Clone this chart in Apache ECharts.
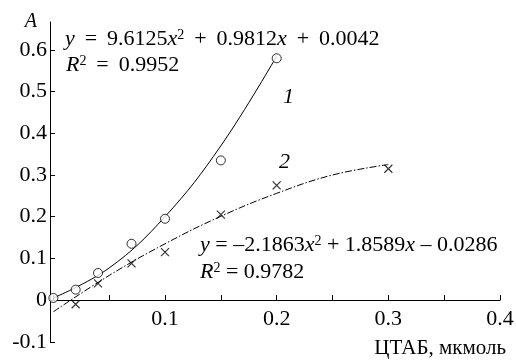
<!DOCTYPE html>
<html>
<head>
<meta charset="utf-8">
<script src="https://cdn.jsdelivr.net/npm/echarts@6/dist/echarts.min.js"></script>
<style>
html,body{margin:0;padding:0;background:#fff;}
#c{width:516px;height:363px;}
</style>
</head>
<body>
<div id="c"></div>
<script>
// Measured points (circles, curve 1)
const x1 = [0, 0.02, 0.04, 0.07, 0.1, 0.15, 0.2];
const a1 = [0.005, 0.025, 0.065, 0.135, 0.195, 0.335, 0.58];
// Measured points (crosses, curve 2)
const x2 = [0.02, 0.04, 0.07, 0.1, 0.15, 0.2, 0.3];
const a2 = [-0.01, 0.04, 0.088, 0.115, 0.205, 0.275, 0.315];
// Trend line 1
const tx1 = [0, 0.05, 0.1, 0.15, 0.2];
const ty1 = [0.005, 0.077, 0.2, 0.37, 0.585];
// Trend line 2
const tx2 = [0, 0.05, 0.1, 0.15, 0.2, 0.25, 0.3];
const ty2 = [-0.028, 0.059, 0.135, 0.201, 0.256, 0.3, 0.325];
// Axis ticks
const xTicks = [0, 0.05, 0.1, 0.15, 0.2, 0.25, 0.3, 0.35, 0.4];
const xLabels = [0.1, 0.2, 0.3, 0.4];
const yTicks = [-0.1, 0, 0.1, 0.2, 0.3, 0.4, 0.5, 0.6];
const yLabels = [-0.1, 0, 0.1, 0.2, 0.3, 0.4, 0.5, 0.6];
const yMin = -0.1, yMax = 0.667;

const FONT = '"Liberation Serif", "Times New Roman", serif';
const zip = (a, b) => a.map((v, i) => [v, b[i]]);

const GRID_TOP = 22, GRID_BOTTOM = 21.25, H = 363;
const plotH = H - GRID_TOP - GRID_BOTTOM;
// lift the x axis from the grid bottom up to value 0
const zeroOffset = -plotH * (0 - yMin) / (yMax - yMin);

const chart = echarts.init(document.getElementById('c'), null, {renderer: 'canvas'});
const rich = {
  i: {fontStyle: 'italic', fontFamily: FONT, fontSize: 22, color: '#000'},
  n: {fontFamily: FONT, fontSize: 22, color: '#000'},
  s: {fontFamily: FONT, fontSize: 14, color: '#000', verticalAlign: 'top', padding: [0, 0, 8, 0]}
};
const SP = ' \u2009';
chart.setOption({
  animation: false,
  backgroundColor: '#fff',
  grid: {left: 50, right: 16, top: GRID_TOP, bottom: GRID_BOTTOM, containLabel: false, outerBoundsMode: 'none'},
  xAxis: {
    type: 'value', min: -0.003, max: 0.4, position: 'bottom', offset: zeroOffset,
    name: 'ЦТАБ, мкмоль', nameLocation: 'end', nameGap: 6,
    nameTextStyle: {fontFamily: FONT, fontSize: 21, color: '#000', align: 'right', verticalAlign: 'top', padding: [38, 0, 0, 0]},
    axisLine: {onZero: false, lineStyle: {color: '#000', width: 1}},
    axisTick: {show: true, inside: true, length: 5, customValues: xTicks, lineStyle: {color: '#000'}},
    axisLabel: {customValues: xLabels, fontFamily: FONT, fontSize: 22, color: '#000', margin: 8, formatter: v => String(v)},
    splitLine: {show: false}
  },
  yAxis: {
    type: 'value', min: yMin, max: yMax,
    name: 'A', nameLocation: 'end', nameGap: 0,
    nameTextStyle: {fontFamily: FONT, fontStyle: 'italic', fontSize: 20, color: '#000', align: 'right', verticalAlign: 'middle', padding: [6, 13, 0, 0]},
    axisLine: {onZero: false, lineStyle: {color: '#000', width: 1}},
    axisTick: {show: true, inside: true, length: 5, customValues: yTicks, lineStyle: {color: '#000'}},
    axisLabel: {customValues: yLabels, fontFamily: FONT, fontSize: 22, color: '#000', margin: 3, formatter: v => (Math.abs(v) < 1e-9 ? '0' : String(Math.round(v * 10) / 10))},
    splitLine: {show: false}
  },
  series: [
    {type: 'line', data: zip(tx1, ty1), smooth: 0.4, showSymbol: false, symbol: 'none',
     lineStyle: {color: '#000', width: 1}, z: 2},
    {type: 'line', data: zip(tx2, ty2), smooth: 0.4, showSymbol: false, symbol: 'none',
     lineStyle: {color: '#000', width: 1, type: [7, 2, 1.5, 2]}, z: 2},
    {type: 'scatter', data: zip(x1, a1), symbol: 'circle', symbolSize: 9,
     itemStyle: {color: '#fff', borderColor: '#000', borderWidth: 1}, z: 3},
    {type: 'scatter', data: zip(x2, a2), symbol: 'path://M0,0L10,10M10,0L0,10', symbolSize: 8,
     itemStyle: {color: 'rgba(0,0,0,0)', borderColor: '#000', borderWidth: 1.2}, z: 3}
  ],
  graphic: [
    {type: 'text', left: 65, top: 28, style: {
      text: '{i|y}{n|' + SP + '=' + SP + '9.6125}{i|x}{s|2}{n|' + SP + '+' + SP + '0.9812}{i|x}{n|' + SP + '+' + SP + '0.0042}', rich: rich}},
    {type: 'text', left: 66, top: 54, style: {
      text: '{i|R}{s|2}{n|' + SP + '=' + SP + '0.9952}', rich: rich}},
    {type: 'text', left: 200, top: 234, style: {
      text: '{i|y}{n| = –2.1863}{i|x}{s|2}{n| + 1.8589}{i|x}{n| – 0.0286}', rich: rich}},
    {type: 'text', left: 200, top: 261, style: {
      text: '{i|R}{s|2}{n| = 0.9782}', rich: rich}},
    {type: 'text', left: 283, top: 86, style: {text: '1', font: 'italic 22px ' + FONT, fill: '#000'}},
    {type: 'text', left: 279, top: 151, style: {text: '2', font: 'italic 22px ' + FONT, fill: '#000'}}
  ]
});
</script>
</body>
</html>
